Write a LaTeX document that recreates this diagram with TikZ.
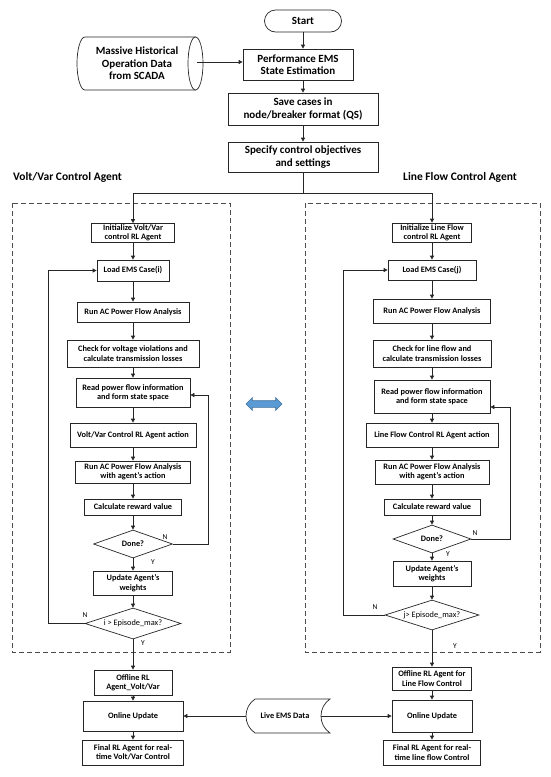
\documentclass[tikz,border=0pt]{standalone}
\usepackage{fontspec}
\setmainfont{Carlito}
\usetikzlibrary{arrows.meta}
\usetikzlibrary{positioning}
\usetikzlibrary{shapes.geometric}
\usetikzlibrary{shapes.arrows}
\definecolor{swapfill}{HTML}{5B9BD5}
\definecolor{swapdraw}{HTML}{41719C}

\begin{document}
\begin{tikzpicture}[x=1pt, y=-1pt,
    line/.style={draw=black!85, line width=0.7pt},
    arr/.style={line, -{Triangle[length=4pt, width=4pt]}},
    big/.style={draw=black!85, line width=0.7pt, fill=white, align=center, inner sep=0pt, font=\bfseries\fontsize{11}{12.5}\selectfont},
    box/.style={draw=black!85, line width=0.7pt, fill=white, align=center, inner sep=0pt, font=\bfseries\fontsize{8.3}{9.4}\selectfont},
    dec/.style={diamond, aspect=3, draw=black!85, line width=0.7pt, fill=white, align=center, inner sep=0pt, font=\fontsize{8.3}{9.4}\selectfont},
    yn/.style={inner sep=0pt, font=\fontsize{7.5}{8}\selectfont},
    title/.style={anchor=west, inner sep=0pt, font=\bfseries\fontsize{11.5}{13}\selectfont},
    agent/.style={draw=black!70, line width=0.8pt, dash pattern=on 5pt off 3pt}]

  \useasboundingbox (0,0) rectangle (550,777);

  % agent frames
  \draw[agent] (12,203) rectangle (230,652);
  \draw[agent] (305,203) rectangle (540,652);
  \node[title] (vvtitle) at (13,177) {Volt/Var Control Agent};
  \node[title] (lftitle) at (403,177) {Line Flow Control Agent};

  % common part
  \node[big, rounded corners=11pt, minimum width=77pt, minimum height=22pt] (start) at (303,21) {Start};
  \node[big, minimum width=110pt, minimum height=31pt] (perf) at (298,64.5) {Performance EMS\\State Estimation};
  \node[big, minimum width=150pt, minimum height=32pt] (save) at (303,109) {Save cases in\\node/breaker format (QS)};
  \node[big, minimum width=150pt, minimum height=30pt] (spec) at (303,157) {Specify control objectives\\and settings};

  % historical data store
  \draw[line] (195.5,37) -- (85,37) arc[start angle=270, end angle=90, x radius=8, y radius=26.5] -- (195.5,90);
  \draw[line] (195.5,63.5) ellipse [x radius=7.5, y radius=26.5];
  \node[big, draw=none, fill=none] (hist) at (137,63.5) {Massive Historical\\Operation Data\\from SCADA};
  \coordinate (histend) at (197,62);

  % volt/var agent
  \node[box, minimum width=83pt, minimum height=19pt] (initL) at (133,233) {Initialize Volt/Var\\control RL Agent};
  \node[box, minimum width=72pt, minimum height=21pt] (loadL) at (133,270.5) {Load EMS Case(i)};
  \node[box, minimum width=112pt, minimum height=20pt] (runL) at (133,312) {Run AC Power Flow Analysis};
  \node[box, minimum width=132pt, minimum height=27pt] (checkL) at (133,353.5) {Check for voltage violations and\\calculate transmission losses};
  \node[box, minimum width=114pt, minimum height=29pt] (readL) at (133,392.5) {Read power flow information\\and form state space};
  \node[box, minimum width=126pt, minimum height=24pt] (actL) at (133,435) {Volt/Var Control RL Agent action};
  \node[box, minimum width=115pt, minimum height=22pt] (runaL) at (133,472) {Run AC Power Flow Analysis\\with agent's action};
  \node[box, minimum width=97pt, minimum height=16pt] (rewL) at (133,507) {Calculate reward value};
  \node[dec, font=\bfseries\fontsize{8.3}{9.4}\selectfont, minimum width=79pt, minimum height=28pt] (doneL) at (133,544) {Done?};
  \node[box, minimum width=79pt, minimum height=24pt] (updL) at (133,583) {Update Agent's\\weights};
  \node[dec, minimum width=96pt, minimum height=31pt] (epiL) at (133,623.5) {i > Episode\_max?};
  \node[box, minimum width=78pt, minimum height=25pt] (offL) at (133,682.5) {Offline RL\\Agent\_Volt/Var};
  \node[box, minimum width=100pt, minimum height=30pt] (onL) at (133,716) {Online Update};
  \node[box, minimum width=101pt, minimum height=25pt] (finL) at (133,752.5) {Final RL Agent for real-\\time Volt/Var Control};

  % line flow agent
  \node[box, minimum width=79pt, minimum height=19pt] (initR) at (432,232.5) {Initialize Line Flow\\control RL Agent};
  \node[box, minimum width=88pt, minimum height=20pt] (loadR) at (432,270) {Load EMS Case(j)};
  \node[box, minimum width=117pt, minimum height=24pt] (runR) at (432,311) {Run AC Power Flow Analysis};
  \node[box, minimum width=118pt, minimum height=27pt] (checkR) at (432,353.5) {Check for line flow and\\calculate transmission losses};
  \node[box, minimum width=116pt, minimum height=33pt] (readR) at (432,396.5) {Read power flow information\\and form state space};
  \node[box, minimum width=132pt, minimum height=24pt] (actR) at (432,435) {Line Flow Control RL Agent action};
  \node[box, minimum width=114pt, minimum height=24pt] (runaR) at (432,472) {Run AC Power Flow Analysis\\with agent's action};
  \node[box, minimum width=96pt, minimum height=16pt] (rewR) at (432,507) {Calculate reward value};
  \node[dec, font=\bfseries\fontsize{8.3}{9.4}\selectfont, minimum width=78pt, minimum height=28pt] (doneR) at (432,539) {Done?};
  \node[box, minimum width=78pt, minimum height=25pt] (updR) at (432,573.5) {Update Agent's\\weights};
  \node[dec, minimum width=94pt, minimum height=30pt] (epiR) at (432,615) {j> Episode\_max?};
  \node[box, minimum width=79pt, minimum height=23pt] (offR) at (432,678.5) {Offline RL Agent for\\Line Flow Control};
  \node[box, minimum width=80pt, minimum height=32pt] (onR) at (432,716) {Online Update};
  \node[box, minimum width=97pt, minimum height=25pt] (finR) at (432,752.5) {Final RL Agent for real-\\time line flow Control};

  % live data
  \node[inner sep=0pt, font=\bfseries\fontsize{8.3}{9.4}\selectfont] (live) at (285,716) {Live EMS Data};
  \draw[line] ([shift={(-30,-17)}]live.center) -- ([shift={(45,-17)}]live.center)
    .. controls +(-12,8) and +(-12,-8) .. ([shift={(45,17)}]live.center)
    -- ([shift={(-30,17)}]live.center)
    .. controls +(-12,-8) and +(-12,8) .. ([shift={(-30,-17)}]live.center) -- cycle;

  \node[double arrow, draw=swapdraw, fill=swapfill, line width=0.6pt, inner sep=3pt, minimum height=36pt, double arrow head extend=3pt, double arrow head indent=0pt] (swap) at (264,404) {};

  % connectors
  \draw[arr] (start) -- (start |- perf.north);
  \draw[arr] (save.north |- perf.south) -- (save);
  \draw[arr] (save) -- (spec);
  \draw[arr] (histend) -- (perf.west |- histend);
  \coordinate (split) at (303,193);
  \draw[line] (spec) -- (split);
  \draw[arr] (split) -| (initL);
  \draw[arr] (split) -| (initR);

  \foreach \a/\b in {initL/loadL, loadL/runL, runL/checkL, checkL/readL, readL/actL, actL/runaL, runaL/rewL, rewL/doneL, doneL/updL, updL/epiL, epiL/offL, offL/onL, onL/finL,
                     initR/loadR, loadR/runR, runR/checkR, checkR/readR, readR/actR, actR/runaR, runaR/rewR, rewR/doneR, doneR/updR, updR/epiR, epiR/offR, offR/onR, onR/finR}
    \draw[arr] (\a) -- (\b);

  \coordinate (fbL) at (208,395);
  \draw[arr] (doneL.east) -| (fbL) -- (readL.east |- fbL);
  \coordinate (backL) at (48,270.5);
  \draw[arr] (epiL.west) -| (backL) -- (loadL.west |- backL);
  \coordinate (fbR) at (510,407);
  \draw[arr] (doneR.east) -| (fbR) -- (readR.east |- fbR);
  \coordinate (backR) at (343,270);
  \draw[arr] (epiR.west) -| (backR) -- (loadR.west |- backR);

  \draw[arr] ([xshift=-39pt]live.center) -- (onL.east |- live);
  \draw[arr] ([xshift=36pt]live.center) -- (onR.west |- live);

  % Y/N labels
  \node[yn] (nL1) at (165,537) {N};
  \node[yn] (yL1) at (153,562) {Y};
  \node[yn] (nL2) at (85,615) {N};
  \node[yn] (yL2) at (143,643) {Y};
  \node[yn] (nR1) at (475,533) {N};
  \node[yn] (yR1) at (448,554) {Y};
  \node[yn] (nR2) at (375,607) {N};
  \node[yn] (yR2) at (455,646) {Y};
\end{tikzpicture}
\end{document}
